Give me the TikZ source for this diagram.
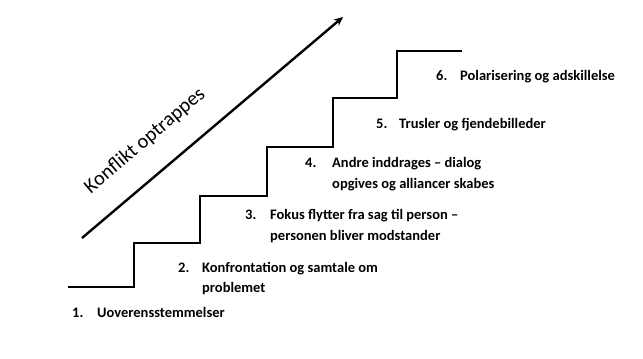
\documentclass[tikz,border=0pt]{standalone}
\usepackage{fontspec}
\setmainfont{Carlito}
\usetikzlibrary{arrows.meta}
\tikzset{
  stair/.style={line width=1.8pt, line join=miter},
  num/.style={anchor=base west, inner sep=0pt, font=\fontsize{14.5}{17}\selectfont\bfseries},
  lbl/.style={anchor=base west, inner sep=0pt, font=\fontsize{14.5}{17}\selectfont\bfseries},
  upar/.style={line width=2.4pt, -{Stealth[length=9pt,width=8pt]}},
}
\begin{document}
\begin{tikzpicture}[x=1pt,y=1pt]
\useasboundingbox (0,0) rectangle (643,359);
% staircase
\draw[stair] (68,72) -- (134,72) -- (134,116) -- (200,116) -- (200,163) -- (267,163)
  -- (267,212) -- (333,212) -- (333,261) -- (397,261) -- (397,308) -- (462,308);
% arrow
\coordinate (as) at (82,121);
\coordinate (ae) at (343,342);
\draw[upar] (as) -- (ae);
\node[inner sep=0pt, rotate=40.3, font=\fontsize{20.3}{24}\selectfont] (kt) at (145,218) {Konflikt optrappes};
% labels
\node[num] (n1) at (72,41) {1.};
\node[lbl] (t1) at (97,41) {Uoverensstemmelser};
\node[num] (n2) at (178,86) {2.};
\node[lbl] (t2a) at (202,86) {Konfrontation og samtale om};
\node[lbl] (t2b) at (202,66) {problemet};
\node[num] (n3) at (245,139) {3.};
\node[lbl] (t3a) at (270,139) {Fokus flytter fra sag til person –};
\node[lbl] (t3b) at (270,118) {personen bliver modstander};
\node[num] (n4) at (305,191) {4.};
\node[lbl] (t4a) at (332,191) {Andre inddrages – dialog};
\node[lbl] (t4b) at (332,170) {opgives og alliancer skabes};
\node[num] (n5) at (376,230) {5.};
\node[lbl] (t5) at (399,230) {Trusler og fjendebilleder};
\node[num] (n6) at (436,278) {6.};
\node[lbl] (t6) at (460,278) {Polarisering og adskillelse};
\end{tikzpicture}
\end{document}
